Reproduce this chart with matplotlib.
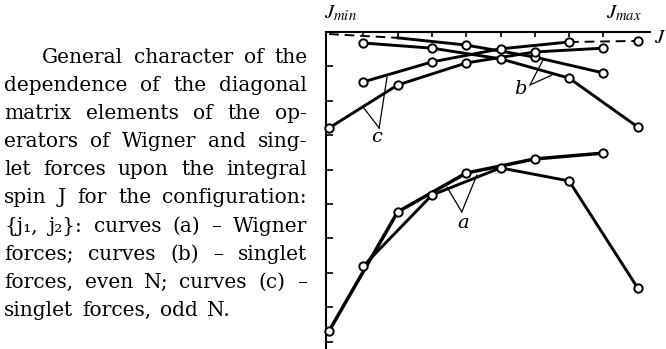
import matplotlib
matplotlib.use("Agg")
import matplotlib.pyplot as plt

plt.rcParams["mathtext.fontset"] = "stix"

# ── data (x = J step from J_min, y = matrix element, arb. units)
J_even = [0, 2, 4, 6, 8]
J_odd = [1, 3, 5, 7, 9]

b_upper = [-0.06, -0.17, -0.38, -0.73, -1.19]   # even J, dashed at small J
b_lower = [-0.32, -0.47, -0.78, -1.34, -2.76]   # odd J
c_upper = [-1.45, -0.87, -0.49, -0.29, -0.26]   # odd J, dashed towards J_max
c_lower = [-2.79, -1.54, -0.90, -0.58, -0.47]   # even J

a_even = [-8.69, -5.23, -4.10, -3.69, -3.52]
a_odd = [-6.80, -4.74, -3.95, -4.33, -7.44]

caption = [
    "General character of the",
    "dependence of the diagonal",
    "matrix elements of the op-",
    "erators of Wigner and sing-",
    "let forces upon the integral",
    "spin J for the configuration:",
    "{j\u2081, j\u2082}: curves (a) \u2013 Wigner",
    "forces; curves (b) \u2013 singlet",
    "forces, even N; curves (c) \u2013",
    "singlet forces, odd N.",
]

W, H = 666, 349
fig = plt.figure(figsize=(W / 100, H / 100), dpi=100)
ax = fig.add_axes([326 / W, 0, 324 / W, 317 / H])
ax.set_xlim(-0.09, 9.36)
ax.set_ylim(-9.215, 0)

lw = 2.1
mk = dict(marker="o", ms=6, mfc="white", mec="black", mew=1.4, ls="none",
          zorder=5, clip_on=False)

# curves b
ax.plot(J_even[:2], b_upper[:2], color="black", lw=1.4, ls=(0, (5, 3)))
ax.plot(J_even[1:], b_upper[1:], color="black", lw=lw)
ax.plot(J_even[2:], b_upper[2:], **mk)
ax.plot(J_odd, b_lower, color="black", lw=lw)
ax.plot(J_odd, b_lower, **mk)

# curves c
ax.plot(J_odd[:4], c_upper[:4], color="black", lw=lw)
ax.plot(J_odd[3:], c_upper[3:], color="black", lw=1.4, ls=(0, (5, 3)))
ax.plot(J_odd, c_upper, **mk)
ax.plot(J_even, c_lower, color="black", lw=lw, clip_on=False)
ax.plot(J_even, c_lower, **mk)

# curves a
ax.plot(J_even, a_even, color="black", lw=lw + 0.4, clip_on=False)
ax.plot(J_even, a_even, **mk)
ax.plot(J_odd, a_odd, color="black", lw=lw)
ax.plot(J_odd, a_odd, **mk)

# pointer lines for the curve letters
def pointer(label, at, vertex, ends):
    for e in ends:
        ax.plot([vertex[0], e[0]], [vertex[1], e[1]], color="black", lw=0.9)
    ax.text(at[0], at[1], label, fontsize=14, style="italic", ha="center",
            va="center", family="DejaVu Serif")

pointer("c", (1.40, -3.05), (1.46, -2.79), [(0.99, -2.18), (1.69, -1.31)])
pointer("b", (5.57, -1.66), (5.86, -1.54), [(6.24, -0.81), (6.50, -1.25)])
pointer("a", (3.90, -5.55), (3.87, -5.23), [(3.44, -4.51), (4.31, -4.16)])

for s in ["right", "bottom"]:
    ax.spines[s].set_visible(False)
for s in ["left", "top"]:
    ax.spines[s].set_linewidth(1.5)
ax.xaxis.tick_top()
ax.set_xticks(range(1, 9))
ax.set_yticks(range(-9, 0))
ax.tick_params(axis="x", direction="in", length=3.5, width=1.2, labeltop=False)
ax.tick_params(axis="y", direction="in", length=5, width=1.2, labelleft=False)

fig.text(340 / W, 1 - 13 / H, r"$J_{min}$", fontsize=15, ha="center", va="center")
fig.text(624 / W, 1 - 13 / H, r"$J_{max}$", fontsize=15, ha="center", va="center")
fig.text(660 / W, 1 - 37 / H, r"$J$", fontsize=15, ha="center", va="center")

# caption text block, justified between the left margin and x=307 px
renderer = fig.canvas.get_renderer()
cap_font = dict(fontsize=14.5, family=["DejaVu Serif"])
right_px = 307
for i, line in enumerate(caption):
    x0 = 42 if i == 0 else 4
    y = 1 - (63 + 28.1 * i) / H
    words = line.split(" ")
    texts = [fig.text(0, y, w, ha="left", va="baseline", **cap_font) for w in words]
    widths = [t.get_window_extent(renderer).width for t in texts]
    if i == len(caption) - 1:
        gap = 9
    else:
        gap = (right_px - x0 - sum(widths)) / max(len(words) - 1, 1)
    x = x0
    for t, w in zip(texts, widths):
        t.set_x(x / W)
        x += w + gap

fig.savefig("out.png", dpi=100)
